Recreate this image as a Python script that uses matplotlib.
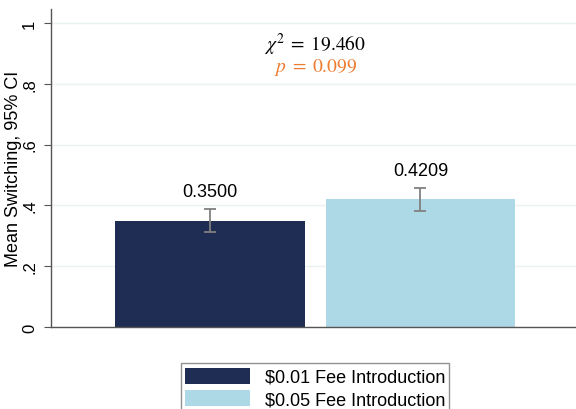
import matplotlib
matplotlib.use('Agg')
import matplotlib.pyplot as plt

groups = ['$0.01 Fee Introduction', '$0.05 Fee Introduction']
means = [0.3500, 0.4209]
ci_low = [0.3125, 0.3830]
ci_high = [0.3870, 0.4570]
colors = ['#1f2d55', '#add8e6']
chi2_text = r'$\chi^2\;=\;19.460$'
p_text = r'$p\;=\;0.099$'

plt.rcParams['font.family'] = 'Liberation Sans'
plt.rcParams['mathtext.fontset'] = 'stix'

fig = plt.figure(figsize=(5.76, 4.1), dpi=100)
ax = fig.add_axes([51/576, 1 - 328/410, 525/576, 318/410])

x = [0, 1]
yerr = [[m - lo for m, lo in zip(means, ci_low)],
        [hi - m for m, hi in zip(means, ci_high)]]
bars = ax.bar(x, means, width=0.9, color=colors, zorder=2)
ax.errorbar(x, means, yerr=yerr, fmt='none', ecolor='#808080',
            elinewidth=1.3, capsize=4, capthick=1.3, zorder=3)

for xi, m, hi in zip(x, means, ci_high):
    ax.text(xi, hi + 0.03, f'{m:.4f}', ha='center', va='bottom', fontsize=13)

# test statistic annotation
ax.text(0.5, 0.93, chi2_text, ha='center', va='center', fontsize=14,
        color='black')
ax.text(0.5, 0.858, p_text, ha='center', va='center', fontsize=14,
        color='#ed7d31')

ax.set_xlim(-0.755, 1.739)
ax.set_ylim(0, 1.046)
ax.set_yticks([0, 0.2, 0.4, 0.6, 0.8, 1.0])
ax.set_yticklabels(['0', '.2', '.4', '.6', '.8', '1'], rotation=90, va='center')
ax.tick_params(axis='y', labelsize=12, length=5, color='#555555', pad=5)
ax.set_xticks([])
ax.set_ylabel('Mean Switching, 95% CI', fontsize=13, labelpad=0)
ax.grid(axis='y', color='#eaf2f3', linewidth=1, zorder=0)

for side in ['top', 'right']:
    ax.spines[side].set_visible(False)
for side in ['left', 'bottom']:
    ax.spines[side].set_color('#555555')
    ax.spines[side].set_linewidth(1)

leg = fig.legend(bars, groups, loc='upper center',
                 bbox_to_anchor=(315/576, 1 - 355/410), fontsize=13,
                 frameon=True, fancybox=False, edgecolor='#777777',
                 handlelength=3.6, handleheight=1.0, borderpad=0.25,
                 labelspacing=0.25)
leg.get_frame().set_linewidth(1)

fig.savefig('out.png', dpi=100)
